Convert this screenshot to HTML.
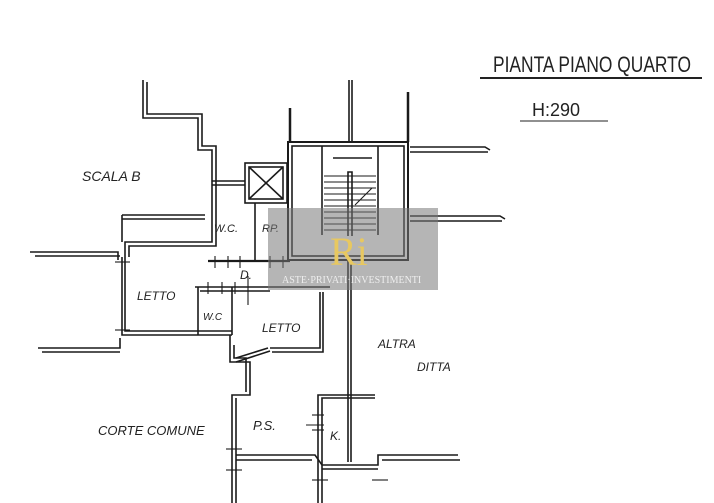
<!DOCTYPE html>
<html><head><meta charset="utf-8"><style>
html,body{margin:0;padding:0;background:#fff}
svg{display:block}
text{font-family:"Liberation Sans",sans-serif;fill:#222}
</style></head><body>
<svg width="714" height="503" viewBox="0 0 714 503" xmlns="http://www.w3.org/2000/svg">
<g fill="none" stroke="#1a1a1a" stroke-width="1.6">
<polyline points="143,80 143,118 198,118 198,150 212,150 212,242 125,242 125,257"/>
<polyline points="147,82 147,114 202,114 202,146 216,146 216,246 129,246 129,257"/>
<polyline points="122,257 122,335 232,335"/>
<polyline points="125,257 125,331 232,331"/>
<polyline points="122,215 205,215"/><polyline points="122,219 205,219"/>
<line x1="122" y1="215" x2="122" y2="242"/>
<polyline points="30,252 118,252 118,260"/><polyline points="35,256 120,256"/>
<polyline points="38,348 120,348 120,338"/><polyline points="42,352 120,352"/>
<line x1="212" y1="181" x2="245" y2="181"/><line x1="212" y1="185" x2="245" y2="185"/>
<rect x="245" y="163" width="42" height="40"/><rect x="249" y="167" width="34" height="32"/>
<line x1="249" y1="167" x2="283" y2="199"/><line x1="283" y1="167" x2="249" y2="199"/>
<line x1="255" y1="203" x2="255" y2="262"/>
<rect x="288" y="142" width="120" height="118" stroke-width="2"/>
<rect x="292" y="146" width="112" height="110"/>
<line x1="290" y1="108" x2="290" y2="142" stroke-width="2.5"/>
<line x1="349" y1="80" x2="349" y2="142"/><line x1="352" y1="80" x2="352" y2="142"/>
<line x1="408" y1="92" x2="408" y2="142" stroke-width="2.5"/>
<line x1="322" y1="146" x2="322" y2="235"/><line x1="378" y1="146" x2="378" y2="235"/>
<polyline points="348,236 348,172 352,172 352,236"/>
<line x1="333" y1="158" x2="372" y2="158"/>
<g stroke-width="1.1">
<line x1="324" y1="176" x2="376" y2="176"/><line x1="324" y1="182" x2="376" y2="182"/><line x1="324" y1="188" x2="376" y2="188"/><line x1="324" y1="194" x2="376" y2="194"/><line x1="324" y1="200" x2="376" y2="200"/><line x1="324" y1="206" x2="376" y2="206"/><line x1="324" y1="212" x2="376" y2="212"/><line x1="324" y1="218" x2="376" y2="218"/><line x1="324" y1="224" x2="376" y2="224"/><line x1="324" y1="230" x2="376" y2="230"/>
<line x1="355" y1="205" x2="372" y2="188"/>
<!-- ticks -->
<line x1="215" y1="256" x2="215" y2="268"/><line x1="228" y1="256" x2="228" y2="268"/><line x1="240" y1="256" x2="240" y2="268"/><line x1="270" y1="256" x2="270" y2="268"/><line x1="283" y1="256" x2="283" y2="268"/>
<line x1="208" y1="282" x2="208" y2="294"/><line x1="222" y1="282" x2="222" y2="294"/><line x1="235" y1="282" x2="235" y2="294"/><line x1="248" y1="276" x2="248" y2="305"/>
<line x1="115" y1="330" x2="130" y2="330"/><line x1="115" y1="262" x2="130" y2="262"/>
<line x1="226" y1="449" x2="242" y2="449"/><line x1="226" y1="470" x2="242" y2="470"/><line x1="312" y1="480" x2="328" y2="480"/><line x1="372" y1="480" x2="388" y2="480"/>
<line x1="312" y1="415" x2="324" y2="415"/><line x1="312" y1="430" x2="324" y2="430"/><line x1="306" y1="425" x2="324" y2="425"/>
</g>
<polyline points="410,147 485,147 490,150"/><polyline points="410,152 488,152"/>
<polyline points="410,216 500,216 505,219"/><polyline points="410,221 502,221"/>
<line x1="208" y1="261" x2="290" y2="261" stroke-width="2.2"/>
<line x1="195" y1="287" x2="330" y2="287"/><line x1="200" y1="291" x2="270" y2="291"/>
<line x1="198" y1="287" x2="198" y2="335"/><line x1="232" y1="287" x2="232" y2="335"/>
<polyline points="270,348 320,348 320,292"/><polyline points="272,352 323,352 323,292"/>
<line x1="236" y1="358" x2="268" y2="348"/><line x1="236" y1="362" x2="270" y2="351"/>
<line x1="348" y1="260" x2="348" y2="462"/><line x1="351" y1="260" x2="351" y2="462"/>
<polyline points="230,335 230,362 250,362 250,395 232,395 232,503"/>
<polyline points="234,345 234,358 246,358 246,392"/>
<polyline points="236,398 236,503"/>
<polyline points="236,455 315,455 322,465 378,465 378,455 458,455"/>
<polyline points="236,460 312,460"/><polyline points="382,460 460,460"/>
<polyline points="318,503 318,395 375,395"/><polyline points="322,503 322,398 375,398"/>
<polyline points="322,469 378,469"/>
</g>
<g font-size="13" font-style="italic">
<text x="82" y="181" font-size="14">SCALA B</text>
<text x="214" y="232" font-size="11">W.C.</text>
<text x="262" y="232" font-size="11">RP.</text>
<text x="240" y="279" font-size="12">D.</text>
<text x="137" y="300" font-size="12">LETTO</text>
<text x="203" y="320" font-size="10">W.C</text>
<text x="262" y="332" font-size="12">LETTO</text>
<text x="378" y="348" font-size="12">ALTRA</text>
<text x="417" y="371" font-size="12">DITTA</text>
<text x="98" y="435" font-size="13">CORTE COMUNE</text>
<text x="253" y="430" font-size="13">P.S.</text>
<text x="330" y="440" font-size="12">K.</text>
</g>
<text x="493" y="72" font-size="22" textLength="198" lengthAdjust="spacingAndGlyphs" style="font-family:'Liberation Sans Narrow','Liberation Sans',sans-serif">PIANTA PIANO QUARTO</text>
<line x1="480" y1="78" x2="702" y2="78" stroke="#222" stroke-width="2"/>
<text x="532" y="116" font-size="18">H:290</text>
<line x1="520" y1="121" x2="608" y2="121" stroke="#222" stroke-width="1"/>
<rect x="268" y="208" width="170" height="82" fill="rgba(120,120,120,0.55)"/>
<text x="330" y="265" font-size="40" style="fill:#e8c860;font-family:'Liberation Serif',serif">Ri</text>
<text x="282" y="283" font-size="10" style="fill:#eee;font-family:'Liberation Serif',serif">ASTE·PRIVATI·INVESTIMENTI</text>
</svg>
</body></html>
